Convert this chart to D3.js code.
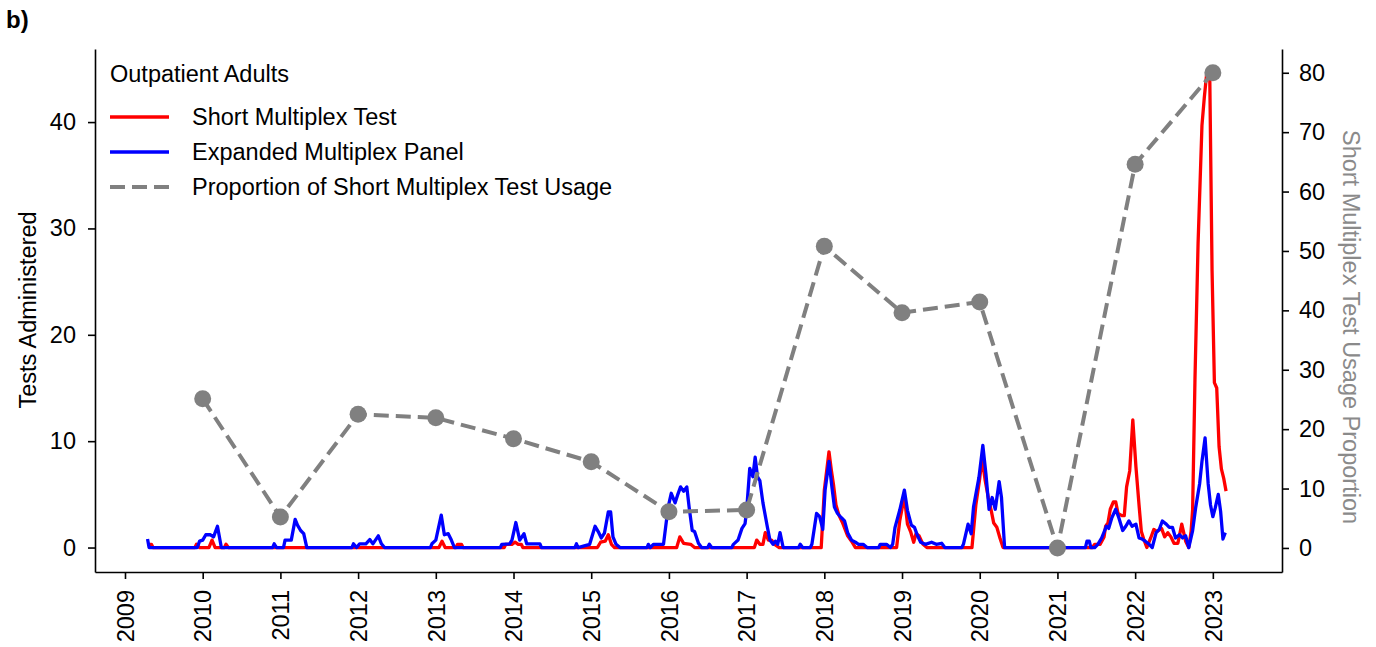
<!DOCTYPE html>
<html>
<head>
<meta charset="utf-8">
<script src="https://cdn.jsdelivr.net/npm/d3@7"></script>
<style>
  body { margin: 0; background: #fff; }
  svg { display: block; font-family: "Liberation Sans", Arial, sans-serif; }
</style>
</head>
<body>
<div id="chart"></div>
<script>
// year ticks on the x axis
const yearTicks = d3.range(2009, 2024);
const leftTicks = [0, 10, 20, 30, 40];
const rightTicks = [0, 10, 20, 30, 40, 50, 60, 70, 80];

// proportion of short multiplex test usage, one value per season (right axis)
const propYears = [2010, 2011, 2012, 2013, 2014, 2015, 2016, 2017, 2018, 2019, 2020, 2021, 2022, 2023];
const propValues = [25.1, 5.2, 22.5, 21.9, 18.4, 14.5, 6.1, 6.4, 50.8, 39.6, 41.4, 0, 64.6, 80.0];

// expanded multiplex panel, weekly tests (decimal year)
const blueYears = [
  2009.29, 2009.31, 2009.93, 2009.96, 2010.00, 2010.04, 2010.10, 2010.14, 2010.19, 2010.24,
  2010.90, 2010.92, 2010.95, 2011.04, 2011.06, 2011.14, 2011.19, 2011.22, 2011.26, 2011.30, 2011.34,
  2011.92, 2011.94, 2011.98, 2012.02, 2012.10, 2012.15, 2012.19, 2012.26, 2012.30, 2012.34,
  2012.93, 2012.95, 2013.00, 2013.07, 2013.11, 2013.16, 2013.20, 2013.24,
  2013.83, 2013.85, 2013.95, 2013.98, 2014.03, 2014.08, 2014.135, 2014.17, 2014.34, 2014.36,
  2014.79, 2014.81, 2014.83, 2014.98, 2015.05, 2015.09, 2015.13, 2015.17, 2015.22, 2015.25, 2015.28, 2015.32, 2015.37,
  2015.72, 2015.735, 2015.76, 2015.80, 2015.93, 2015.99, 2016.03, 2016.08, 2016.11, 2016.15, 2016.19, 2016.23,
  2016.26, 2016.30, 2016.33, 2016.38, 2016.42, 2016.50, 2016.52, 2016.55,
  2016.81, 2016.83, 2016.89, 2016.94, 2016.98, 2017.00, 2017.04, 2017.08, 2017.11, 2017.14, 2017.17, 2017.21,
  2017.265, 2017.30, 2017.34, 2017.37, 2017.40, 2017.43, 2017.47, 2017.67, 2017.69, 2017.72,
  2017.82, 2017.84, 2017.90, 2017.94, 2017.98, 2018.01, 2018.06, 2018.10, 2018.13, 2018.17, 2018.22, 2018.26,
  2018.30, 2018.35, 2018.40, 2018.44, 2018.50, 2018.55, 2018.70, 2018.72, 2018.80, 2018.85, 2018.88,
  2018.91, 2018.97, 2019.03, 2019.07, 2019.12, 2019.16, 2019.20, 2019.24, 2019.30, 2019.38, 2019.44, 2019.51, 2019.55,
  2019.77, 2019.79, 2019.85, 2019.89, 2019.92, 2019.99, 2020.04, 2020.08, 2020.12, 2020.16, 2020.20, 2020.25, 2020.28, 2020.32,
  2021.36, 2021.38, 2021.41, 2021.43, 2021.48, 2021.52, 2021.57, 2021.63, 2021.66, 2021.70, 2021.75, 2021.79,
  2021.84, 2021.88, 2021.92, 2021.96, 2022.01, 2022.05, 2022.09, 2022.13, 2022.18, 2022.22, 2022.27, 2022.31,
  2022.35, 2022.40, 2022.44, 2022.48, 2022.52, 2022.57, 2022.61, 2022.65, 2022.69, 2022.74, 2022.78, 2022.83,
  2022.86, 2022.90, 2022.92, 2022.94, 2022.97, 2023.00, 2023.03, 2023.07, 2023.10, 2023.13, 2023.16
];
const blueValues = [
  0.8, 0, 0, 0.6, 0.7, 1.2, 1.2, 1.0, 2.0, 0,
  0, 0.35, 0, 0, 0.7, 0.7, 2.65, 2.1, 1.6, 1.3, 0,
  0, 0.35, 0, 0.35, 0.35, 0.75, 0.35, 1.1, 0.35, 0,
  0, 0.35, 0.7, 3.05, 1.2, 1.3, 0.7, 0,
  0, 0.3, 0.35, 0.7, 2.35, 0.7, 1.3, 0.35, 0.35, 0,
  0, 0.35, 0, 0.3, 2.0, 1.5, 0.9, 1.35, 3.35, 3.35, 1.0, 0.3, 0,
  0, 0.3, 0, 0.3, 0.3, 3.8, 5.1, 4.2, 4.9, 5.7, 5.3, 5.7,
  3.8, 1.6, 1.5, 0.4, 0, 0, 0.3, 0,
  0, 0.3, 0.7, 1.8, 2.25, 3.5, 7.45, 6.65, 8.5, 6.65, 6.3, 4.2,
  2.0, 0.7, 0.3, 0.6, 0.3, 1.4, 0, 0, 0.3, 0,
  0, 0.3, 3.2, 2.9, 1.7, 5.4, 8.1, 5.55, 3.8, 3.2, 2.8, 2.5,
  1.4, 0.7, 0.5, 0.3, 0.3, 0, 0, 0.3, 0.3, 0, 0.3,
  1.9, 3.5, 5.4, 3.5, 2.1, 1.9, 1.1, 0.5, 0.3, 0.5, 0.3, 0.4, 0,
  0, 0.3, 2.2, 1.3, 3.8, 6.6, 9.6, 6.9, 3.6, 4.7, 3.6, 6.2, 4.7, 0,
  0, 0.6, 0.6, 0, 0, 0.3, 0.9, 2.0, 1.8, 2.8, 3.6, 2.8,
  1.6, 2.0, 2.5, 2.0, 2.2, 0.9, 0.8, 0.6, 0.3, 0, 1.4, 1.7,
  2.5, 2.2, 1.9, 1.9, 0.9, 1.2, 0.9, 1.1, 0, 1.6, 3.8, 6.0,
  8.1, 10.3, 8.1, 6.0, 4.0, 2.9, 3.7, 5.0, 3.4, 0.8, 1.4
];

// short multiplex test, weekly tests
const redYears = [
  2009.29, 2009.34, 2009.36, 2009.90, 2009.92, 2009.96, 2010.08, 2010.12, 2010.16, 2010.28, 2010.30, 2010.33,
  2013.04, 2013.08, 2013.12, 2013.26, 2013.28, 2013.33, 2013.35,
  2013.88, 2013.90, 2013.98, 2014.02, 2014.06, 2014.10, 2014.12,
  2015.08, 2015.12, 2015.18, 2015.22, 2015.26, 2015.30,
  2016.10, 2016.14, 2016.19, 2016.28, 2016.33,
  2017.10, 2017.13, 2017.17, 2017.21, 2017.24, 2017.28, 2017.32, 2017.36, 2017.42,
  2017.96, 2018.00, 2018.06, 2018.09, 2018.12, 2018.15, 2018.19, 2018.23, 2018.30, 2018.35, 2018.40,
  2018.93, 2018.97, 2019.03, 2019.07, 2019.11, 2019.15, 2019.18, 2019.22, 2019.27, 2019.32,
  2019.90, 2019.95, 2020.00, 2020.03, 2020.07, 2020.11, 2020.15, 2020.18, 2020.22, 2020.26, 2020.30,
  2021.45, 2021.48, 2021.55, 2021.60, 2021.62, 2021.65, 2021.68, 2021.72, 2021.75, 2021.78, 2021.83,
  2021.86, 2021.89, 2021.93, 2021.97, 2022.01, 2022.05, 2022.08, 2022.11, 2022.15, 2022.20, 2022.24,
  2022.28, 2022.34, 2022.38, 2022.42, 2022.46, 2022.50, 2022.55, 2022.60, 2022.65, 2022.69, 2022.72,
  2022.74, 2022.77, 2022.81, 2022.86, 2022.89, 2022.92, 2022.96, 2022.99, 2023.02, 2023.05, 2023.08,
  2023.11, 2023.14, 2023.17
];
const redValues = [
  0.3, 0.3, 0, 0, 0.3, 0, 0, 0.7, 0, 0, 0.3, 0,
  0, 0.6, 0, 0, 0.3, 0.3, 0,
  0, 0.3, 0.3, 0.5, 0.3, 0.3, 0,
  0, 0.5, 0.6, 1.2, 0.3, 0,
  0, 1.0, 0.4, 0.3, 0,
  0, 0.7, 0.3, 0.3, 1.4, 0.7, 0.7, 0.3, 0,
  0, 5.4, 9.0, 7.3, 5.8, 4.0, 3.0, 2.4, 1.1, 0.6, 0,
  0, 2.5, 4.8, 2.2, 1.5, 0.5, 1.3, 1.1, 0.3, 0,
  0, 4.0, 6.5, 8.4, 6.3, 4.7, 3.4, 2.3, 1.9, 0.9, 0,
  0, 0.3, 0.3, 1.0, 2.0, 2.3, 3.6, 4.3, 4.3, 3.2, 3.0,
  3.0, 5.7, 7.2, 12.0, 7.6, 4.0, 1.5, 0.8, 0, 0.9, 1.7,
  1.5, 1.8, 1.0, 1.4, 1.0, 0.4, 0.4, 2.2, 0.6, 0, 1.5,
  3.6, 15.8, 28.6, 39.7, 42.3, 44.5, 44.5, 26.0, 15.5, 15.0, 9.5,
  7.4, 6.5, 5.3
];

const W = 1376, H = 647;
const m = { left: 95, right: 1282, top: 49, bottom: 572 };
const font = 23.5;

const svg = d3.select("#chart").append("svg")
  .attr("width", W)
  .attr("height", H);

const x = d3.scaleLinear().domain([2008.614, 2023.89]).range([m.left, m.right]);
const yL = d3.scaleLinear().domain([-2.3, 46.87]).range([m.bottom, m.top]);
const yR = d3.scaleLinear().domain([-4.05, 84.0]).range([m.bottom, m.top]);

// weekly lines, red below blue
const series = [
  { xs: redYears, ys: redValues, color: "#ff0000" },
  { xs: blueYears, ys: blueValues, color: "#0000ff" }
];
const line = d3.line().x(d => x(d[0])).y(d => yL(d[1]));
series.forEach(s => {
  svg.append("path")
    .datum(d3.zip(s.xs, s.ys))
    .attr("d", line)
    .attr("fill", "none")
    .attr("stroke", s.color)
    .attr("stroke-width", 3.3)
    .attr("stroke-linejoin", "round");
});

// proportion line on right axis
const propData = d3.zip(propYears, propValues);
svg.append("path")
  .datum(propData)
  .attr("d", d3.line().x(d => x(d[0])).y(d => yR(d[1])))
  .attr("fill", "none")
  .attr("stroke", "#808080")
  .attr("stroke-width", 4)
  .attr("stroke-dasharray", "15,7");
svg.selectAll(".dot")
  .data(propData)
  .enter()
  .append("circle")
  .attr("cx", d => x(d[0]))
  .attr("cy", d => yR(d[1]))
  .attr("r", 8.5)
  .attr("fill", "#808080");

// axes
function styleAxis(g) {
  g.selectAll("path").attr("stroke", "#000").attr("stroke-width", 1.6);
  g.selectAll("line").attr("stroke", "#000").attr("stroke-width", 1.6);
  g.selectAll("text").attr("fill", "#000").style("font-size", font + "px");
}

const xAxis = svg.append("g")
  .attr("transform", `translate(0,${m.bottom})`)
  .call(d3.axisBottom(x).tickValues(yearTicks).tickFormat(d3.format("d")).tickSize(7).tickSizeOuter(0))
  .call(styleAxis);
xAxis.selectAll("text")
  .attr("transform", "rotate(-90)")
  .attr("text-anchor", "end")
  .attr("x", -18)
  .attr("y", 0)
  .attr("dy", "0.35em");

svg.append("g")
  .attr("transform", `translate(${m.left},0)`)
  .call(d3.axisLeft(yL).tickValues(leftTicks).tickSize(7).tickPadding(12).tickSizeOuter(0))
  .call(styleAxis);

svg.append("g")
  .attr("transform", `translate(${m.right},0)`)
  .call(d3.axisRight(yR).tickValues(rightTicks).tickSize(7).tickPadding(10).tickSizeOuter(0))
  .call(styleAxis);

// axis titles
svg.append("text")
  .attr("transform", `translate(36,310) rotate(-90)`)
  .attr("text-anchor", "middle")
  .style("font-size", font + "px")
  .attr("fill", "#000")
  .text("Tests Administered");

svg.append("text")
  .attr("transform", `translate(1343,327) rotate(90)`)
  .attr("text-anchor", "middle")
  .style("font-size", font + "px")
  .attr("fill", "#8a8a8a")
  .text("Short Multiplex Test Usage Proportion");

svg.append("text")
  .attr("x", 6)
  .attr("y", 28)
  .style("font-size", "24px")
  .style("font-weight", "bold")
  .text("b)");

// legend
const legend = svg.append("g");
legend.append("text")
  .attr("x", 110)
  .attr("y", 82)
  .style("font-size", font + "px")
  .text("Outpatient Adults");

const legendItems = [
  { label: "Short Multiplex Test", color: "#ff0000", dash: null, w: 3.3 },
  { label: "Expanded Multiplex Panel", color: "#0000ff", dash: null, w: 3.3 },
  { label: "Proportion of Short Multiplex Test Usage", color: "#808080", dash: "15,7", w: 4 }
];
legendItems.forEach((d, i) => {
  const ly = 117 + i * 35;
  legend.append("line")
    .attr("x1", 110).attr("x2", 169)
    .attr("y1", ly).attr("y2", ly)
    .attr("stroke", d.color)
    .attr("stroke-width", d.w)
    .attr("stroke-dasharray", d.dash);
  legend.append("text")
    .attr("x", 192)
    .attr("y", ly)
    .attr("dy", "0.35em")
    .style("font-size", font + "px")
    .text(d.label);
});
</script>
</body>
</html>
